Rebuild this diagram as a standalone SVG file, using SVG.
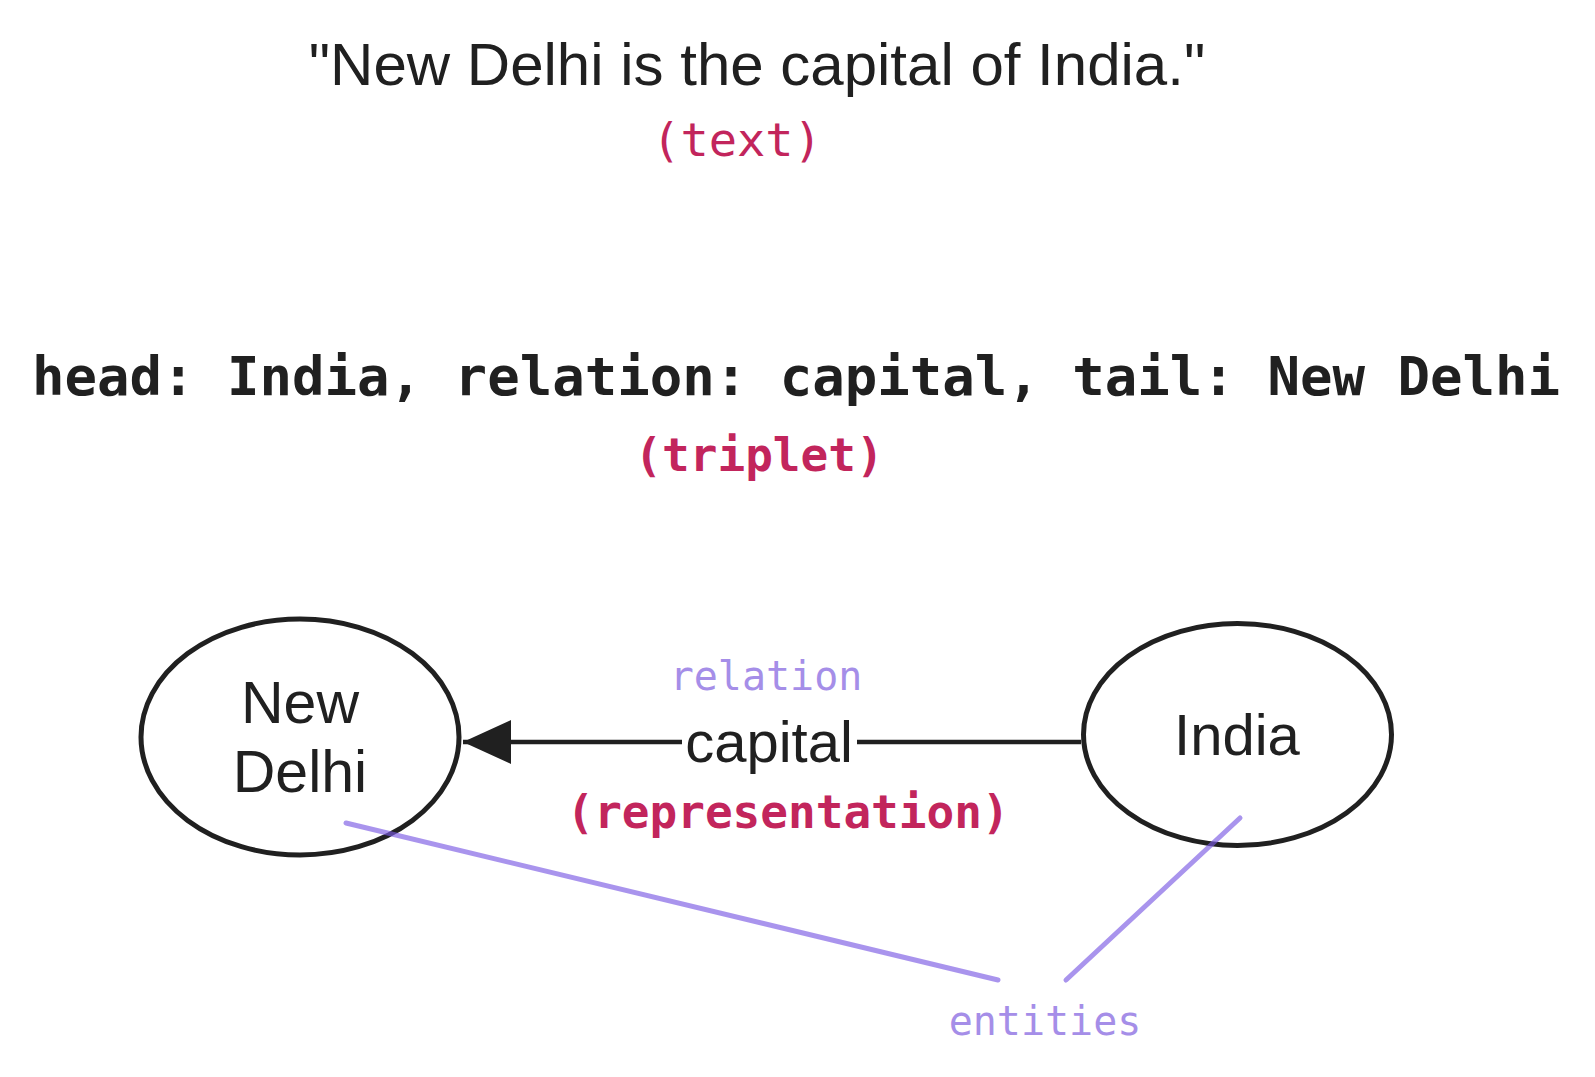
<svg xmlns="http://www.w3.org/2000/svg" width="1595" height="1077" viewBox="0 0 1595 1077">
<style>
.sans{font-family:"Liberation Sans",Arial,sans-serif;fill:#202020}
.mono{font-family:"DejaVu Sans Mono","Liberation Mono",monospace}
.note{fill:#C2255C}
.lbl{fill:#A58EE8}
.node{fill:none;stroke:#202020;stroke-width:5}
.ptr{stroke:#7B5BE3;stroke-opacity:0.65;stroke-width:5;stroke-linecap:round;fill:none}
</style>
<defs>
<marker id="arrow" markerUnits="userSpaceOnUse" markerWidth="48" markerHeight="46" refX="46" refY="21" orient="auto" viewBox="0 0 46 42">
<path d="M0,0 L46,21 L0,42 Z" fill="#202020"/>
</marker>
</defs>
<rect width="1595" height="1077" fill="#ffffff"/>
<g id="text-sentence">
<text class="sans" x="757" y="85" font-size="60" text-anchor="middle">"New Delhi is the capital of India."</text>
<text class="mono note" x="737" y="156" font-size="47" text-anchor="middle">(text)</text>
</g>
<g id="triplet">
<text class="mono" x="796" y="395" font-size="54" font-weight="bold" fill="#202020" text-anchor="middle">head: India, relation: capital, tail: New Delhi</text>
<text class="mono note" x="759" y="471" font-size="46" font-weight="bold" text-anchor="middle">(triplet)</text>
</g>
<g id="connectors">
<line x1="1081" y1="742" x2="463" y2="742" stroke="#202020" stroke-width="4.5" marker-end="url(#arrow)"/>
<rect x="682" y="712" width="175" height="60" fill="#ffffff"/>
<text class="sans" x="769" y="762" font-size="58" text-anchor="middle">capital</text>
<text class="mono lbl" x="766" y="690" font-size="40" text-anchor="middle">relation</text>
<text class="mono note" x="788" y="828" font-size="46" font-weight="bold" text-anchor="middle">(representation)</text>
</g>
<g id="node-new-delhi">
<ellipse class="node" cx="300" cy="737" rx="159" ry="118"/>
<text class="sans" x="300" y="723" font-size="59" text-anchor="middle">New</text>
<text class="sans" x="300" y="792" font-size="59" text-anchor="middle">Delhi</text>
</g>
<g id="node-india">
<ellipse class="node" cx="1237.5" cy="734.5" rx="154" ry="111"/>
<text class="sans" x="1237" y="755" font-size="58" text-anchor="middle">India</text>
</g>
<g id="entities-annotation">
<line class="ptr" x1="346" y1="823" x2="998" y2="980"/>
<line class="ptr" x1="1066" y1="980" x2="1240" y2="818"/>
<text class="mono lbl" x="1045" y="1035" font-size="40" text-anchor="middle">entities</text>
</g>
</svg>
